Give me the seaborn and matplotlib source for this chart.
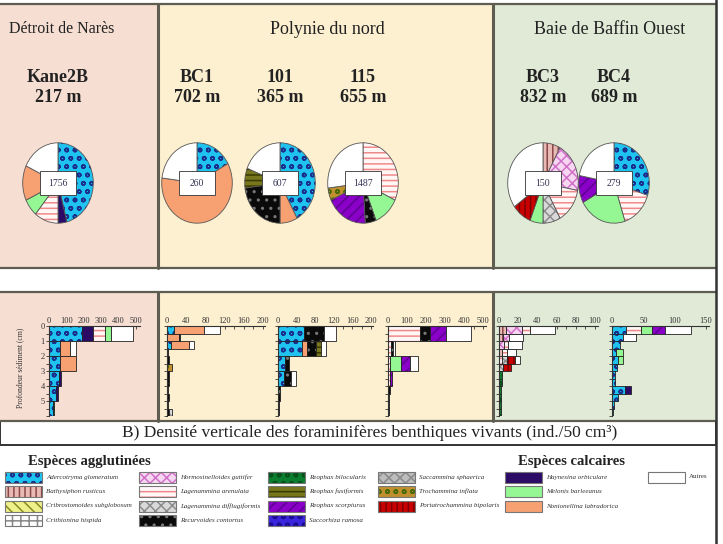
import matplotlib
matplotlib.use("Agg")
import matplotlib.pyplot as plt
from matplotlib.patches import Rectangle
from matplotlib.colors import to_rgba
from matplotlib.ticker import MultipleLocator
import seaborn as sns
import pandas as pd
import numpy as np

W, H = 723, 544

# ---------------- data ----------------
regions = ["Détroit de Narès", "Polynie du nord", "Baie de Baffin Ouest"]
stations = ["Kane2B", "BC1", "101", "115", "BC3", "BC4"]
depths_m = ["217 m", "702 m", "365 m", "655 m", "832 m", "689 m"]
totals = [1756, 260, 607, 1487, 150, 279]

# pie compositions (% , clockwise from 12 o'clock)
kane_pie_sp = ["Adercotryma glomeratum", "Haynesina orbiculare", "Lagenammina arenulata",
               "Melonis barleeanus", "Nonionellina labradorica", "Autres"]
kane_pie_pct = [46, 4, 11, 7, 14, 18]
bc1_pie_sp = ["Adercotryma glomeratum", "Nonionellina labradorica", "Autres"]
bc1_pie_pct = [17, 60, 23]
s101_pie_sp = ["Adercotryma glomeratum", "Nonionellina labradorica", "Recurvoides contortus",
               "Reophax fusiformis", "Autres"]
s101_pie_pct = [42, 8, 23, 8, 19]
s115_pie_sp = ["Lagenammina arenulata", "Melonis barleeanus", "Recurvoides contortus",
               "Reophax scorpiurus", "Trochammina inflata", "Autres"]
s115_pie_pct = [32, 12, 5, 19, 5, 27]
bc3_pie_sp = ["Bathysiphon rusticus", "Hormosinelloides guttifer", "Lagenammina arenulata",
              "Lagenammina difflugiformis", "Melonis barleeanus", "Portatrochammina bipolaris", "Autres"]
bc3_pie_pct = [8, 20, 14, 8, 6, 9, 35]
bc4_pie_sp = ["Adercotryma glomeratum", "Lagenammina arenulata", "Melonis barleeanus",
              "Reophax scorpiurus", "Autres"]
bc4_pie_pct = [30, 15, 22, 11, 22]

# vertical densities (ind./50 cm3), stacked left -> right
kane_edges = [0, 1, 2, 3, 4, 5, 6]
kane_counts = {
    "Adercotryma glomeratum": [192, 65, 62, 58, 42, 22],
    "Haynesina orbiculare": [58, 0, 0, 12, 12, 0],
    "Lagenammina arenulata": [70, 0, 0, 0, 0, 0],
    "Melonis barleeanus": [35, 0, 0, 0, 0, 0],
    "Nonionellina labradorica": [0, 55, 95, 0, 0, 0],
    "Reophax bilocularis": [0, 0, 0, 0, 0, 8],
    "Autres": [125, 38, 0, 0, 0, 0],
}
half_edges = [0, 0.5, 1, 1.5, 2, 2.5, 3, 3.5, 4, 4.5, 5, 5.5, 6]
bc1_counts = {
    "Adercotryma glomeratum": [14, 0, 9, 0, 0, 0, 0, 0, 0, 0, 0, 0],
    "Nonionellina labradorica": [64, 24, 36, 0, 0, 0, 0, 0, 0, 0, 0, 0],
    "Trochammina inflata": [0, 0, 0, 0, 0, 10, 0, 0, 0, 0, 0, 0],
    "Recurvoides contortus": [0, 3, 0, 3, 4, 0, 5, 4, 3, 4, 3, 4],
    "Lagenammina difflugiformis": [0, 0, 0, 0, 0, 0, 0, 0, 0, 0, 0, 6],
    "Autres": [32, 0, 12, 0, 0, 0, 0, 0, 0, 0, 0, 0],
}
mixed_edges = [0, 1, 2, 3, 4, 4.5, 5, 5.5, 6]
s101_counts = {
    "Adercotryma glomeratum": [56, 52, 16, 13, 0, 0, 0, 0],
    "Nonionellina labradorica": [0, 11, 0, 0, 0, 0, 0, 0],
    "Recurvoides contortus": [43, 18, 7, 14, 5, 4, 3, 3],
    "Reophax fusiformis": [0, 11, 0, 0, 0, 0, 0, 0],
    "Autres": [25, 11, 0, 11, 0, 0, 0, 0],
}
s115_counts = {
    "Lagenammina arenulata": [169, 15, 13, 10, 0, 0, 0, 0],
    "Melonis barleeanus": [0, 0, 55, 0, 0, 0, 0, 0],
    "Recurvoides contortus": [50, 10, 0, 0, 8, 6, 5, 5],
    "Reophax scorpiurus": [88, 0, 46, 12, 0, 0, 0, 0],
    "Autres": [130, 12, 46, 0, 0, 0, 0, 0],
}
bc3_counts = {
    "Bathysiphon rusticus": [7, 4, 0, 3, 0, 0, 0, 0, 0, 0, 0, 0],
    "Hormosinelloides guttifer": [17, 6, 5, 0, 0, 0, 0, 0, 0, 0, 0, 0],
    "Lagenammina arenulata": [8, 0, 4, 5, 3, 0, 0, 0, 0, 0, 0, 0],
    "Lagenammina difflugiformis": [0, 0, 0, 0, 5, 4, 0, 0, 0, 0, 0, 0],
    "Portatrochammina bipolaris": [0, 0, 0, 0, 9, 8, 0, 0, 0, 0, 0, 0],
    "Reophax bilocularis": [0, 0, 0, 0, 0, 0, 3, 3, 2, 2, 2, 2],
    "Autres": [26, 15, 15, 10, 5, 0, 0, 0, 0, 0, 0, 0],
}
bc4_counts = {
    "Adercotryma glomeratum": [23, 18, 13, 6, 10, 8, 5, 4, 21, 10, 3, 2],
    "Lagenammina arenulata": [23, 0, 0, 0, 0, 0, 0, 0, 0, 0, 0, 0],
    "Melonis barleeanus": [18, 0, 0, 12, 8, 0, 0, 0, 0, 0, 0, 0],
    "Reophax scorpiurus": [21, 0, 0, 0, 0, 0, 0, 0, 0, 0, 0, 0],
    "Haynesina orbiculare": [0, 0, 0, 0, 0, 0, 0, 0, 10, 0, 0, 0],
    "Autres": [41, 21, 0, 0, 0, 0, 0, 0, 0, 0, 0, 0],
}

# ---------------- styles ----------------
colors = {
    "Adercotryma glomeratum": "#1fc3ef", "Bathysiphon rusticus": "#e9b9b4",
    "Cribrostomoides subglobosum": "#eef08a", "Crithionina hispida": "#fdfdfd",
    "Hormosinelloides guttifer": "#f7d6f2", "Lagenammina arenulata": "#fff6f6",
    "Lagenammina difflugiformis": "#d9d9d9", "Recurvoides contortus": "#0a0a0a",
    "Reophax bilocularis": "#0b7d2e", "Reophax fusiformis": "#77761c",
    "Reophax scorpiurus": "#8a00c8", "Saccorhiza ramosa": "#3b25dc",
    "Saccammina sphaerica": "#bdbdbd", "Trochammina inflata": "#c0902c",
    "Portatrochammina bipolaris": "#c80000", "Haynesina orbiculare": "#2b0b66",
    "Melonis barleeanus": "#94f794", "Nonionellina labradorica": "#f7a072",
    "Autres": "#ffffff",
}
hatches = {
    "Adercotryma glomeratum": ("oo", "#1b2f8a"), "Bathysiphon rusticus": ("|||", "#8a4848"),
    "Cribrostomoides subglobosum": ("\\\\\\", "#8a8a20"), "Crithionina hispida": ("++", "#888888"),
    "Hormosinelloides guttifer": ("xxx", "#d070c8"), "Lagenammina arenulata": ("---", "#f08a8a"),
    "Lagenammina difflugiformis": ("xxx", "#8d8d8d"), "Recurvoides contortus": ("..", "#777777"),
    "Reophax bilocularis": ("oo", "#04501a"), "Reophax fusiformis": ("---", "#3a3a00"),
    "Reophax scorpiurus": ("///", "#5d0090"), "Saccorhiza ramosa": ("oo", "#1a0a90"),
    "Saccammina sphaerica": ("xxx", "#8a8a8a"), "Trochammina inflata": ("oo", "#4a6a10"),
    "Portatrochammina bipolaris": ("|||", "#800000"),
}
pink, yellow, green = "#f6ded2", "#fdf0d0", "#e0ead6"
line_c = "#5f5d52"

sns.set_style("white")
plt.rcParams["font.family"] = ["Liberation Serif", "DejaVu Serif"]
plt.rcParams["hatch.linewidth"] = 1.1


def style_patch(p, sp, edge="#333333", lw=0.6):
    p.set_facecolor(colors[sp])
    p.set_edgecolor(edge)
    p.set_linewidth(lw)
    if sp in hatches:
        h, hc = hatches[sp]
        p.set_hatch(h)
        p._hatch_color = to_rgba(hc)


def frac(x0, y0, x1, y1):
    return [x0 / W, 1 - y1 / H, (x1 - x0) / W, (y1 - y0) / H]


fig = plt.figure(figsize=(W / 100, H / 100), dpi=100)
bg = fig.add_axes([0, 0, 1, 1])
bg.set_xlim(0, W)
bg.set_ylim(H, 0)
bg.axis("off")

div1, div2, right = 158, 493, 716
for y0, y1 in [(4, 268), (292, 421)]:
    bg.add_patch(Rectangle((0, y0), div1, y1 - y0, fc=pink, ec="none"))
    bg.add_patch(Rectangle((div1, y0), div2 - div1, y1 - y0, fc=yellow, ec="none"))
    bg.add_patch(Rectangle((div2, y0), right - div2, y1 - y0, fc=green, ec="none"))
    bg.plot([0, right], [y0, y0], color=line_c, lw=1.6)
    bg.plot([0, right], [y1, y1], color=line_c, lw=1.6)
    for xd in (div1, div2):
        bg.plot([xd, xd], [y0, y1], color=line_c, lw=2.2)
bg.add_patch(Rectangle((0, 421), right, 24, fc="white", ec="#333333", lw=1.4))
bg.plot([right, right], [0, H], color="#333333", lw=1.8)

# region titles
for name, cx, fs in zip(regions, [62, 327, 610], [11.5, 13, 13]):
    bg.text(cx, 29, name, ha="center", va="center", fontsize=fs, color="#222222")

# pies (slightly taller than wide, as in the source figure)
pie_cx = [58, 197, 280, 363, 543, 614]
pie_cy, pie_rx, pie_ry = 183, 36, 41
pie_sp = [kane_pie_sp, bc1_pie_sp, s101_pie_sp, s115_pie_sp, bc3_pie_sp, bc4_pie_sp]
pie_pct = [kane_pie_pct, bc1_pie_pct, s101_pie_pct, s115_pie_pct, bc3_pie_pct, bc4_pie_pct]
for st, dm, tot, cx, sps, pct in zip(stations, depths_m, totals, pie_cx, pie_sp, pie_pct):
    bg.text(cx, 77, st, ha="center", va="center", fontsize=13, fontweight="bold", color="#222222")
    bg.text(cx, 98, dm, ha="center", va="center", fontsize=13, fontweight="bold", color="#222222")
    ax = fig.add_axes(frac(cx - pie_rx, pie_cy - pie_ry, cx + pie_rx, pie_cy + pie_ry))
    wedges, _ = ax.pie(pct, startangle=90, counterclock=False,
                       colors=[colors[s] for s in sps])
    for w, s in zip(wedges, sps):
        style_patch(w, s, edge="#555555", lw=0.6)
    ax.add_patch(Rectangle((-0.5, -0.29), 1.0, 0.58, fc="white", ec="#333333", lw=0.6, zorder=5))
    ax.text(0, 0, str(tot), ha="center", va="center", fontsize=7, color="#333355", zorder=6)
    ax.set_aspect("auto")
    ax.set_xlim(-1.02, 1.02)
    ax.set_ylim(-1.02, 1.02)
    ax.axis("off")

# vertical density panels
panels = [
    (kane_edges, kane_counts, 49, 136, 500, 100, 525),
    (half_edges, bc1_counts, 167, 263, 200, 40, 205),
    (mixed_edges, s101_counts, 278, 371, 200, 40, 205),
    (mixed_edges, s115_counts, 388, 483, 500, 100, 515),
    (half_edges, bc3_counts, 499, 595, 100, 20, 103),
    (half_edges, bc4_counts, 612, 706, 150, 50, 155),
]
y_top, y_bot, depth_max = 326, 416, 6
for i, (edges, counts, px0, pxt, tmax, step, xmax) in enumerate(panels):
    px1 = px0 + (pxt - px0) / tmax * xmax
    ax = fig.add_axes(frac(px0, y_top, px1, y_bot))
    order = list(counts.keys())
    mids = (np.array(edges[:-1]) + np.array(edges[1:])) / 2
    rows = [{"depth": m, "n": v, "sp": sp}
            for sp in order for m, v in zip(mids, counts[sp]) if v > 0]
    df = pd.DataFrame(rows)
    sns.histplot(data=df, y="depth", weights="n", hue="sp", hue_order=order[::-1],
                 bins=edges, multiple="stack", palette=colors, alpha=1,
                 linewidth=0.6, edgecolor="#222222", legend=False, ax=ax)
    for p in ax.patches:
        if p.get_width() <= 0:
            p.set_visible(False)
            continue
        fc = p.get_facecolor()
        for sp in order:
            if np.allclose(fc, to_rgba(colors[sp]), atol=1e-3):
                style_patch(p, sp, edge="#222222", lw=0.6)
                break
    ax.set_facecolor("none")
    ax.set_xlim(0, xmax)
    ax.set_ylim(depth_max, 0)
    ax.xaxis.tick_top()
    ax.set_xticks(np.arange(0, tmax + 1, step))
    ax.xaxis.set_minor_locator(MultipleLocator(step / 2))
    ax.yaxis.set_minor_locator(MultipleLocator(0.5))
    ax.tick_params(axis="x", which="both", direction="in", length=2.5, width=0.6,
                   labelsize=6, pad=1, colors="#333333")
    ax.tick_params(axis="y", which="both", direction="out", length=2, width=0.6,
                   labelsize=6, pad=1, colors="#333333", left=True)
    ax.set_yticks(range(0, 6))
    if i > 0:
        ax.set_yticklabels([])
    for s in ("bottom", "right"):
        ax.spines[s].set_visible(False)
    for s in ("top", "left"):
        ax.spines[s].set_color("#333333")
        ax.spines[s].set_linewidth(0.8)
    ax.set_xlabel("")
    ax.set_ylabel("")

bg.text(20, 368, "Profondeur sédiment (cm)", rotation=90, ha="center", va="center",
        fontsize=5.5, color="#333333")

# caption
bg.text(370, 433, "B) Densité verticale des foraminifères benthiques vivants (ind./50 cm³)",
        ha="center", va="center", fontsize=12.5, color="#222222")

# legend
bg.text(28, 462, "Espèces agglutinées", ha="left", va="center", fontsize=10.5,
        fontweight="bold", color="#222222")
bg.text(518, 462, "Espèces calcaires", ha="left", va="center", fontsize=10.5,
        fontweight="bold", color="#222222")
leg_cols = [
    (5, ["Adercotryma glomeratum", "Bathysiphon rusticus", "Cribrostomoides subglobosum",
         "Crithionina hispida"]),
    (139, ["Hormosinelloides guttifer", "Lagenammina arenulata", "Lagenammina difflugiformis",
           "Recurvoides contortus"]),
    (268, ["Reophax bilocularis", "Reophax fusiformis", "Reophax scorpiurus",
           "Saccorhiza ramosa"]),
    (378, ["Saccammina sphaerica", "Trochammina inflata", "Portatrochammina bipolaris"]),
    (505, ["Haynesina orbiculare", "Melonis barleeanus", "Nonionellina labradorica"]),
    (648, ["Autres"]),
]
row_centers = [477, 491.5, 506, 520.5]
for sx, names in leg_cols:
    for yc, sp in zip(row_centers, names):
        r = Rectangle((sx, yc - 5.5), 37, 11)
        bg.add_patch(r)
        style_patch(r, sp, edge="#777777", lw=0.8)
        bg.text(sx + 41, yc, sp, ha="left", va="center", fontsize=5,
                style="normal" if sp == "Autres" else "italic", color="#333333")

fig.savefig("out.png", dpi=100)
